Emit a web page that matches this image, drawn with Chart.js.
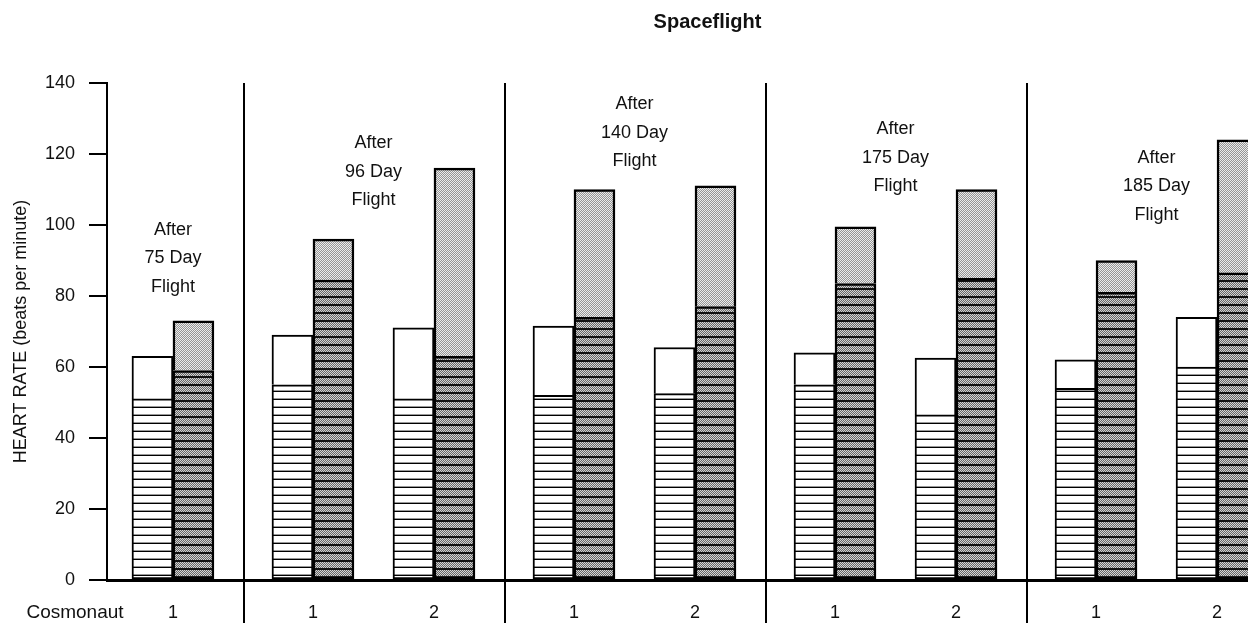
<!DOCTYPE html>
<html>
<head>
<meta charset="utf-8">
<title>Spaceflight</title>
<script src="https://cdn.jsdelivr.net/npm/chart.js@4.4.1/dist/chart.umd.min.js"></script>
<style>
  body { margin: 0; background: #fff; }
  #wrap { width: 1248px; height: 623px; }
</style>
</head>
<body>
<div id="wrap"><canvas id="graphique"></canvas></div>
<script>
//donnees
const vols = [75, 96, 140, 175, 185];
const cosmonautes = ['1', '1', '2', '1', '2', '1', '2', '1', '2'];
const volIndex = [0, 1, 1, 2, 2, 3, 3, 4, 4];
//barre de gauche (avant vol) : repos puis total
const reposAvant = [51, 55, 51, 52, 52.5, 55, 46.5, 54, 60];
const totalAvant = [63, 69, 71, 71.5, 65.5, 64, 62.5, 62, 74];
//barre de droite (apres vol)
const reposApres = [59, 84.5, 63, 74, 77, 83.5, 85, 81, 86.5];
const totalApres = [73, 96, 116, 110, 111, 99.5, 110, 90, 124];
const yTicks = [0, 20, 40, 60, 80, 100, 120, 140];

//mise en page : hauteur du texte "After" de chaque vol, ecart entre vols
const notesY = [98.6, 123, 134, 127, 119];
const ecartVol = 0.157;
const xPos = cosmonautes.map((c, i) => i + volIndex[i] * ecartVol);

const FONT = '"Liberation Sans", Arial, sans-serif';
const canvas = document.getElementById('graphique');
const ctxGraph = canvas.getContext('2d');

//motifs des barres
function motif(w, h, dessin) {
  const c = document.createElement('canvas');
  c.width = w;
  c.height = h;
  dessin(c.getContext('2d'), w, h);
  return ctxGraph.createPattern(c, 'repeat');
}

function pointille(ctx, w, y0, y1, a, b) {
  for (let y = y0; y < y1; y++) {
    for (let x = 0; x < w; x++) {
      ctx.fillStyle = (x + y) % 2 ? a : b;
      ctx.fillRect(x, y, 1, 1);
    }
  }
}

const motifLignes = motif(4, 8, (ctx, w, h) => {
  ctx.fillStyle = '#fff';
  ctx.fillRect(0, 0, w, h);
  ctx.fillStyle = '#999';
  ctx.fillRect(0, 6, w, 1);
  ctx.fillStyle = '#000';
  ctx.fillRect(0, 7, w, 1);
});

const motifDense = motif(4, 8, (ctx, w, h) => {
  ctx.fillStyle = '#111';
  ctx.fillRect(0, 0, w, 2);
  pointille(ctx, w, 2, h, '#666', '#d4d4d4');
});

const motifGris = motif(4, 4, (ctx, w, h) => {
  pointille(ctx, w, 0, h, '#959595', '#ececec');
});

function points(valeurs) {
  return valeurs.map((v, i) => ({x: xPos[i], y: v}));
}

function flottant(bas, haut) {
  return bas.map((v, i) => ({x: xPos[i], y: [v, haut[i]]}));
}

function barre(label, stack, data, fond, bordure) {
  return {
    label: label,
    stack: stack,
    data: data,
    backgroundColor: fond,
    borderColor: '#000',
    borderWidth: bordure,
    borderSkipped: false,
    barThickness: 41
  };
}

//separations et textes
const decor = {
  id: 'decor',
  afterDatasetsDraw(chart) {
    const {ctx, chartArea, scales: {x, y}} = chart;
    ctx.save();
    ctx.strokeStyle = '#000';
    ctx.lineWidth = 2;
    for (let g = 1; g < vols.length; g++) {
      const fin = xPos[volIndex.lastIndexOf(g - 1)];
      const debut = xPos[volIndex.indexOf(g)];
      const px = Math.round(x.getPixelForValue((fin + debut) / 2)) + 1;
      ctx.beginPath();
      ctx.moveTo(px, chartArea.top);
      ctx.lineTo(px, chart.height);
      ctx.stroke();
    }

    ctx.fillStyle = '#111';
    ctx.textAlign = 'center';
    ctx.textBaseline = 'middle';
    ctx.font = '18px ' + FONT;
    vols.forEach((jours, g) => {
      const pos = xPos.filter((p, i) => volIndex[i] === g);
      const cx = x.getPixelForValue((pos[0] + pos[pos.length - 1]) / 2);
      const haut = y.getPixelForValue(notesY[g]);
      ['After', jours + ' Day', 'Flight'].forEach((t, k) => {
        ctx.fillText(t, cx, haut + k * 28.5);
      });
    });
    ctx.font = '19px ' + FONT;
    ctx.fillText('Cosmonaut', chartArea.left - 32, x.top + 33);

    ctx.font = 'bold 20px ' + FONT;
    ctx.fillText('Spaceflight', (chartArea.left + chartArea.right) / 2 + 30, 22);
    ctx.restore();
  }
};

const bordHaut = {top: 2.5, left: 2.5, right: 2.5, bottom: 0};

new Chart(canvas, {
  type: 'bar',
  data: {
    datasets: [
      barre('Avant vol, repos', 'avant', points(reposAvant), motifLignes, 2),
      barre('Avant vol, test', 'avant', flottant(reposAvant, totalAvant), '#fff', {top: 2, left: 2, right: 2, bottom: 0}),
      barre('Apres vol, repos', 'apres', points(reposApres), motifDense, 2.5),
      barre('Apres vol, test', 'apres', flottant(reposApres, totalApres), motifGris, bordHaut)
    ]
  },
  options: {
    responsive: true,
    maintainAspectRatio: false,
    animation: false,
    layout: {padding: {top: 83, right: 0, bottom: 0, left: 0}},
    plugins: {
      legend: {display: false},
      tooltip: {enabled: false}
    },
    scales: {
      x: {
        type: 'linear',
        offset: false,
        min: -0.545,
        max: 8.884,
        grid: {display: false, drawTicks: false},
        border: {display: true, color: '#000', width: 3},
        ticks: {
          autoSkip: false,
          maxRotation: 0,
          padding: 22,
          color: '#111',
          font: {family: FONT, size: 18},
          callback: (v, i) => cosmonautes[i]
        },
        afterBuildTicks: (scale) => {
          scale.ticks = xPos.map(v => ({value: v}));
        },
        afterFit: (scale) => {
          scale.height = 43;
          scale.paddingLeft = 0;
          scale.paddingRight = 0;
        }
      },
      y: {
        stacked: false,
        min: 0,
        max: 140,
        grid: {drawOnChartArea: false, drawTicks: true, tickLength: 18, color: '#000', lineWidth: 2},
        border: {display: true, color: '#000', width: 2},
        ticks: {
          padding: 14,
          color: '#111',
          font: {family: FONT, size: 18}
        },
        afterBuildTicks: (scale) => {
          scale.ticks = yTicks.map(v => ({value: v}));
        },
        title: {
          display: true,
          text: 'HEART RATE (beats per minute)',
          color: '#111',
          font: {family: FONT, size: 18},
          padding: {top: 10, bottom: 0}
        },
        afterFit: (scale) => {
          scale.width = 107;
          scale.paddingTop = 0;
          scale.paddingBottom = 0;
        }
      }
    }
  },
  plugins: [decor]
});
</script>
</body>
</html>
